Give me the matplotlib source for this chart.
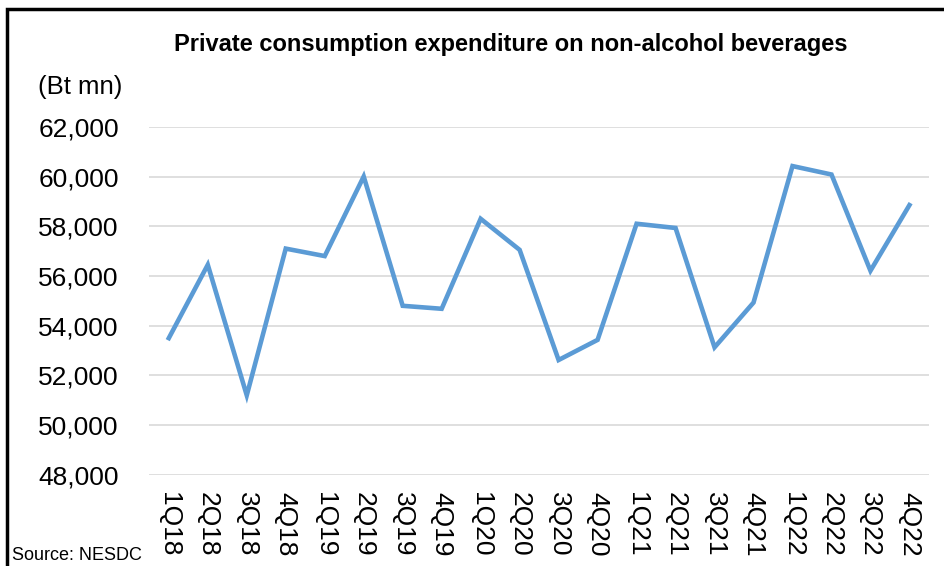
import matplotlib
matplotlib.use('Agg')
import matplotlib.pyplot as plt
from matplotlib.patches import Rectangle
from matplotlib.ticker import FuncFormatter

# ── data ──
quarters = ['1Q18', '2Q18', '3Q18', '4Q18',
            '1Q19', '2Q19', '3Q19', '4Q19',
            '1Q20', '2Q20', '3Q20', '4Q20',
            '1Q21', '2Q21', '3Q21', '4Q21',
            '1Q22', '2Q22', '3Q22', '4Q22']
spending = [53500, 56450, 51200, 57100,
            56800, 60000, 54800, 54680,
            58300, 57050, 52620, 53430,
            58100, 57930, 53130, 54930,
            60420, 60080, 56210, 58850]
y_ticks = [48000, 50000, 52000, 54000, 56000, 58000, 60000, 62000]

plt.rcParams['font.family'] = ['Liberation Sans', 'DejaVu Sans']

fig = plt.figure(figsize=(9.45, 5.66), dpi=100)
ax = fig.add_axes([0.158, 0.161, 0.825, 0.615])

x = list(range(len(quarters)))
ax.plot(x, spending, color='#5B9BD5', linewidth=3.3, solid_joinstyle='miter', zorder=3)

ax.set_xlim(-0.5, len(quarters) - 0.5)
ax.set_ylim(y_ticks[0], y_ticks[-1])
ax.set_yticks(y_ticks)
ax.yaxis.set_major_formatter(FuncFormatter(lambda v, p: f'{v:,.0f}'))
ax.set_xticks(x)
ax.set_xticklabels(quarters, rotation=270, fontsize=19)
ax.tick_params(axis='y', labelsize=19, length=0, pad=22)
ax.tick_params(axis='x', length=0, pad=12)

ax.grid(axis='y', color='#D9D9D9', linewidth=1.2, zorder=0)
for s in ax.spines.values():
    s.set_visible(False)

fig.text(0.541, 0.921, 'Private consumption expenditure on non-alcohol beverages',
         ha='center', va='center', fontsize=17, fontweight='bold')
fig.text(0.04, 0.846, '(Bt mn)', ha='left', va='center', fontsize=18.5)
fig.text(0.013, 0.003, 'Source: NESDC', ha='left', va='bottom', fontsize=13)

# outer frame (cropped on right/bottom like the source)
fig.patches.append(Rectangle((7 / 945, -0.1), 1.2, 1 - 9 / 566 + 0.1,
                             transform=fig.transFigure, fill=False,
                             edgecolor='black', linewidth=2.5))

fig.savefig('out.png', dpi=100)
